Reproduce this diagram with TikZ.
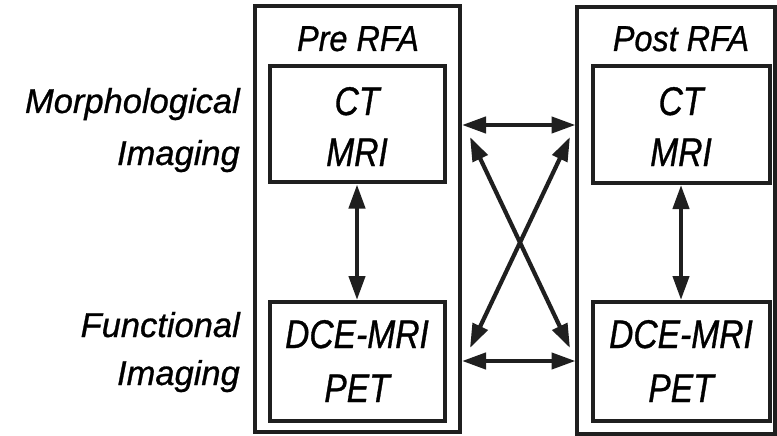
\documentclass[tikz,border=0pt]{standalone}
\usepackage{fontspec}
\setmainfont{Liberation Sans}
\newfontfamily\boxfont{Liberation Sans}[FakeStretch=0.84,FakeBold=0.8]
\newfontfamily\headfont{Liberation Sans}[FakeStretch=0.9,FakeBold=0.8]
\newfontfamily\sidefont{Liberation Sans}[FakeStretch=1.0,FakeBold=0.8]
\usetikzlibrary{arrows.meta}
\tikzset{
  x=1pt, y=-1pt,
  frame/.style={draw=black!88, line width=4pt},
  boxtxt/.style={font=\boxfont\fontsize{40}{48}\selectfont\itshape, anchor=base, inner sep=0pt},
  headtxt/.style={font=\headfont\fontsize{36}{44}\selectfont\itshape, anchor=base, inner sep=0pt},
  sidetxt/.style={font=\sidefont\fontsize{34.5}{42}\selectfont\itshape, anchor=base east, inner sep=0pt},
  link/.style={draw=black!88, line width=4.2pt,
    {Triangle[length=24pt,width=16pt]}-{Triangle[length=24pt,width=16pt]}}
}
\begin{document}
\begin{tikzpicture}
\useasboundingbox (0,0) rectangle (777,436);
% study columns
\draw[frame] (255,6) rectangle (460,432);
\draw[frame] (577,7) rectangle (775,434);
% modality boxes
\draw[frame] (269.5,66) rectangle (445,182);
\draw[frame] (269.5,302) rectangle (445,420.5);
\draw[frame] (593,66) rectangle (770,183);
\draw[frame] (593,302) rectangle (770,421);
% column headings
\node[headtxt] (pre) at (358,51) {Pre RFA};
\node[headtxt] (post) at (681,51) {Post RFA};
% modality names
\node[boxtxt] (ctl1) at (357,115) {CT};
\node[boxtxt] (ctl2) at (357,166) {MRI};
\node[boxtxt] (fnl1) at (357,348) {DCE-MRI};
\node[boxtxt] (fnl2) at (357,402) {PET};
\node[boxtxt] (ctr1) at (681,115) {CT};
\node[boxtxt] (ctr2) at (681,166) {MRI};
\node[boxtxt] (fnr1) at (681,348) {DCE-MRI};
\node[boxtxt] (fnr2) at (681,402) {PET};
% row labels
\node[sidetxt] (morph1) at (240,113) {Morphological};
\node[sidetxt] (morph2) at (240,165) {Imaging};
\node[sidetxt] (func1) at (240,337) {Functional};
\node[sidetxt] (func2) at (240,385) {Imaging};
% connector end points
\coordinate (aL1) at (462,125);
\coordinate (aR1) at (575.5,125);
\coordinate (aL2) at (462,361);
\coordinate (aR2) at (575.5,361);
\coordinate (dL1) at (470,137);
\coordinate (dR1) at (570,348);
\coordinate (dL2) at (470,348);
\coordinate (dR2) at (570,137);
\coordinate (vl1) at (357,184.5);
\coordinate (vl2) at (357,300);
\coordinate (vr1) at (681,185);
\coordinate (vr2) at (681,300);
\draw[link] (aL1) -- (aR1);
\draw[link] (aL2) -- (aR2);
\draw[link] (dL1) -- (dR1);
\draw[link] (dL2) -- (dR2);
\draw[link] (vl1) -- (vl2);
\draw[link] (vr1) -- (vr2);
\end{tikzpicture}
\end{document}
